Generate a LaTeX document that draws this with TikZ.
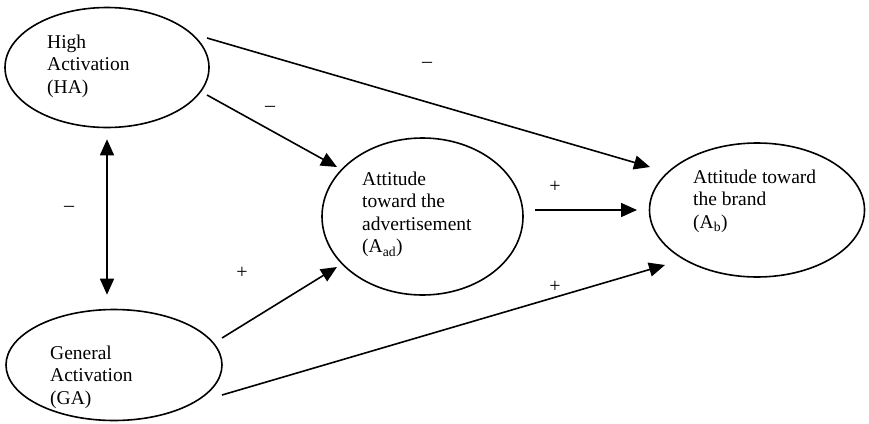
\documentclass[tikz,border=0pt]{standalone}
\usepackage{fontspec}
\setmainfont{Liberation Serif}
\usetikzlibrary{arrows.meta,shapes.geometric}
\tikzset{
  ell/.style={draw, ellipse, line width=1.6pt, inner sep=0pt},
  lbl/.style={anchor=north west, align=left, inner sep=0pt,
    font=\fontsize{19.5pt}{22.5pt}\selectfont},
  sign/.style={inner sep=0pt, font=\fontsize{20pt}{22pt}\selectfont},
  conn/.style={line width=1.6pt, -{Triangle[length=16pt,width=14pt]}},
  dconn/.style={line width=1.6pt, {Triangle[length=16pt,width=14pt]}-{Triangle[length=16pt,width=14pt]}}
}
\begin{document}
\begin{tikzpicture}[x=1pt,y=-1pt]
\useasboundingbox (0,0) rectangle (869,423);
% ellipses
\node[ell, minimum width=204pt, minimum height=120pt] (HA) at (107,67.5) {};
\node[ell, minimum width=216pt, minimum height=111pt] (GA) at (114,365) {};
\node[ell, minimum width=201pt, minimum height=157pt] (Aad) at (422.5,216.5) {};
\node[ell, minimum width=215pt, minimum height=134pt] (Ab) at (757,210) {};
% texts
\node[lbl] (tHA) at (47,34.7) {High\\Activation\\(HA)};
\node[lbl] (tGA) at (50,345.7) {General\\Activation\\(GA)};
\node[lbl] (tAad) at (362,171.7) {Attitude\\toward the\\advertisement\\(A\textsubscript{ad})};
\node[lbl] (tAb) at (693,169.7) {Attitude toward\\the brand\\(A\textsubscript{b})};
% connector end points
\coordinate (s1) at (207,38);  \coordinate (e1) at (650,167);
\coordinate (s2) at (207,95);  \coordinate (e2) at (337,167);
\coordinate (s3) at (535,210); \coordinate (e3) at (637,210);
\coordinate (s4) at (222,338); \coordinate (e4) at (337,267);
\coordinate (s5) at (222,395); \coordinate (e5) at (665,265);
% connectors
\draw[conn] (s1) -- (e1);
\draw[conn] (s2) -- (e2);
\draw[conn] (s3) -- (e3);
\draw[conn] (s4) -- (e4);
\draw[conn] (s5) -- (e5);
\draw[dconn, shorten <=11pt, shorten >=14pt] (HA.south) -- (HA.south |- GA.north);
% signs
\node[sign] (m1) at (427,65) {\textendash};
\node[sign] (m2) at (270,109) {\textendash};
\node[sign] (p3) at (555,187) {+};
\node[sign] (p4) at (242,273) {+};
\node[sign] (p5) at (555,287) {+};
\node[sign] (m6) at (69,209) {\textendash};
\end{tikzpicture}
\end{document}
